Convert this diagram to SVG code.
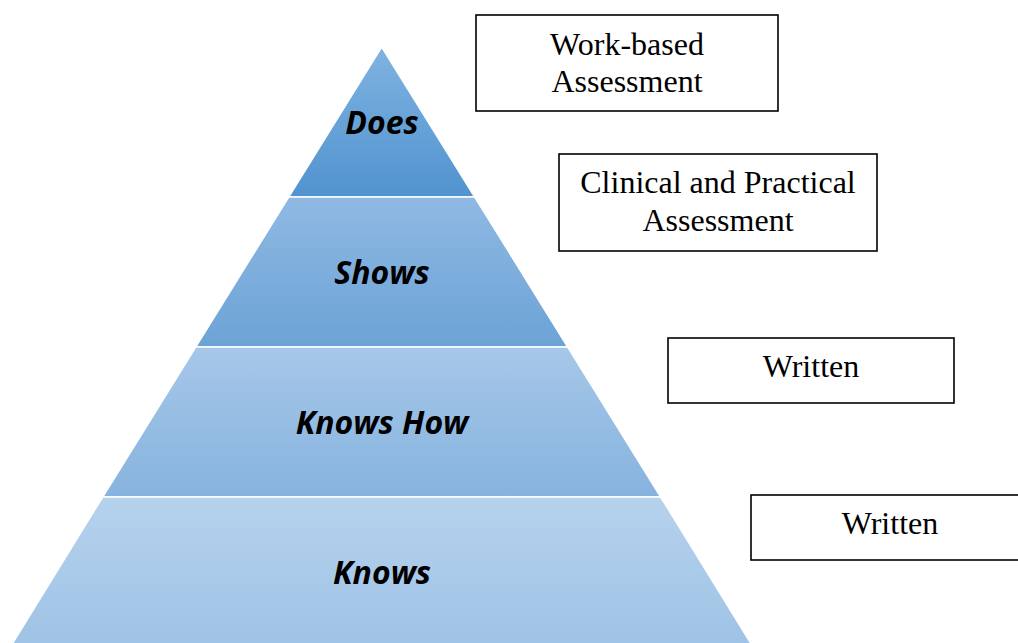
<svg xmlns="http://www.w3.org/2000/svg" width="1018" height="643" viewBox="0 0 1018 643">
<defs>
<linearGradient id="g1" x1="0" y1="0" x2="0" y2="1"><stop offset="0" stop-color="#7fb3e1"/><stop offset="1" stop-color="#5193cf"/></linearGradient>
<linearGradient id="g2" x1="0" y1="0" x2="0" y2="1"><stop offset="0" stop-color="#8fb9e3"/><stop offset="1" stop-color="#6ca3d6"/></linearGradient>
<linearGradient id="g3" x1="0" y1="0" x2="0" y2="1"><stop offset="0" stop-color="#a6c7e9"/><stop offset="1" stop-color="#86b3de"/></linearGradient>
<linearGradient id="g4" x1="0" y1="0" x2="0" y2="1"><stop offset="0" stop-color="#b6d2ed"/><stop offset="1" stop-color="#9fc3e6"/></linearGradient>
</defs>
<style>
.layer{stroke:#ffffff;stroke-width:1.5}
.lbl{font-family:"Open Sans","Liberation Sans",sans-serif;font-weight:bold;font-style:italic;font-size:32px;fill:#000;text-anchor:middle}
.box{fill:#fff;stroke:#000;stroke-width:1.6}
.bt{font-family:"Liberation Serif","Times New Roman",serif;font-size:32px;fill:#000;text-anchor:middle}
</style>
<g id="level-does"><polygon class="layer" points="381.7,47 474.7,197 288.7,197" fill="url(#g1)"/><text class="lbl" x="382" y="134">Does</text></g>
<g id="level-shows"><polygon class="layer" points="288.7,197 474.7,197 567.7,347 195.7,347" fill="url(#g2)"/><text class="lbl" x="382" y="284">Shows</text></g>
<g id="level-knowshow"><polygon class="layer" points="195.7,347 567.7,347 660.7,497 102.7,497" fill="url(#g3)"/><text class="lbl" x="382" y="434">Knows How</text></g>
<g id="level-knows"><polygon class="layer" points="102.7,497 660.7,497 751.2,644 12.2,644" fill="url(#g4)"/><text class="lbl" x="382" y="584">Knows</text></g>
<g id="box-workbased"><rect class="box" x="476" y="15" width="302" height="96"/><text class="bt" x="627" y="55">Work-based</text><text class="bt" x="627" y="92">Assessment</text></g>
<g id="box-clinical"><rect class="box" x="559" y="154" width="318" height="97"/><text class="bt" x="718" y="193">Clinical and Practical</text><text class="bt" x="718" y="231">Assessment</text></g>
<g id="box-written1"><rect class="box" x="668" y="338" width="286" height="65"/><text class="bt" x="811" y="377">Written</text></g>
<g id="box-written2"><rect class="box" x="751" y="495" width="300" height="65"/><text class="bt" x="890" y="534">Written</text></g>
<g id="connectors"/>
</svg>
